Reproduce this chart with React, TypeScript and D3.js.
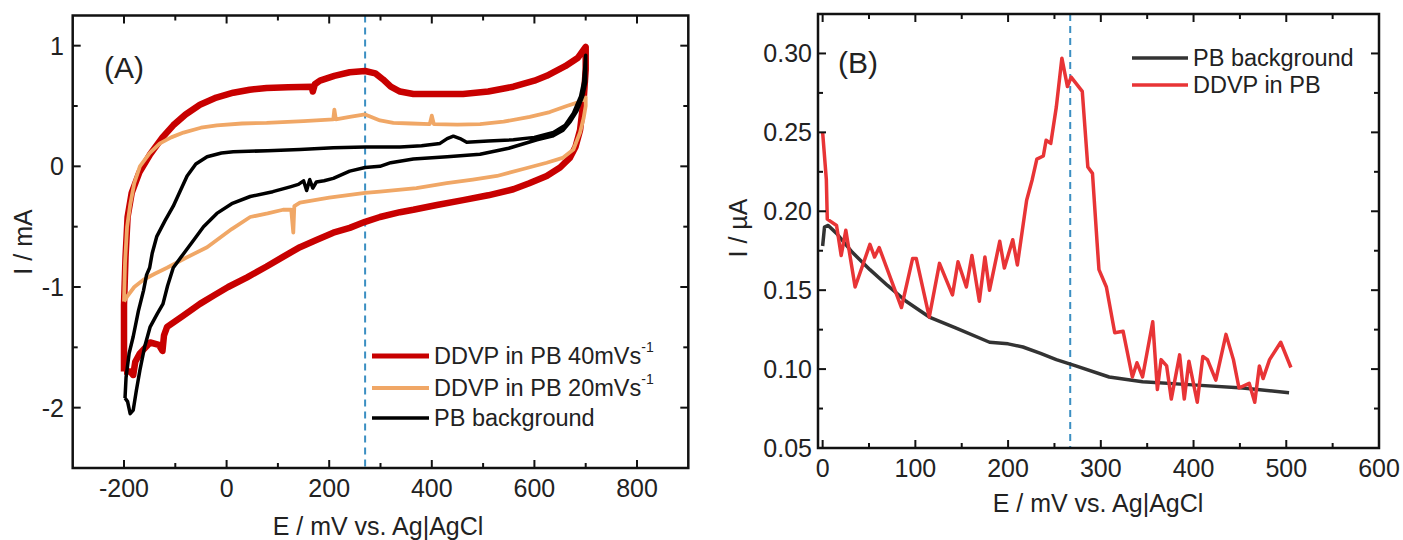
import React from "react";
import * as d3 from "d3";

// ---------- Panel A data (E / mV, I / mA) ----------
const ddvp40: [number, number][] = [
  [-200, -1.7], [-200, -1.15], [-197, -0.75], [-193, -0.42], [-185, -0.22], [-170, -0.05], [-149, 0.1],
  [-125, 0.24], [-104, 0.34], [-80, 0.43], [-52, 0.51], [-20, 0.57], [13, 0.61], [45, 0.635], [78, 0.65],
  [120, 0.655], [166, 0.66], [168, 0.62], [172, 0.68], [182, 0.71], [210, 0.75], [240, 0.78], [270, 0.79],
  [290, 0.77], [305, 0.72], [320, 0.66], [338, 0.62], [364, 0.6], [410, 0.6], [461, 0.6], [510, 0.62],
  [559, 0.66], [600, 0.71], [624, 0.75], [660, 0.83], [685, 0.9], [700, 0.99],
  [700, 0.8], [696, 0.55], [689, 0.3], [680, 0.16], [669, 0.07], [650, -0.01], [624, -0.08], [590, -0.14],
  [559, -0.19], [510, -0.24], [461, -0.28], [410, -0.32], [364, -0.36], [338, -0.38], [299, -0.42],
  [270, -0.46], [240, -0.51], [208, -0.55], [175, -0.61], [143, -0.67], [110, -0.75], [78, -0.83],
  [40, -0.92], [3, -1.0], [-25, -1.07], [-52, -1.14], [-85, -1.24], [-116, -1.33], [-122, -1.4],
  [-125, -1.53], [-132, -1.48], [-149, -1.46], [-169, -1.55], [-178, -1.62], [-182, -1.73],
  [-188, -1.7], [-200, -1.7],
];

const ddvp20: [number, number][] = [
  [-200, -1.12], [-198, -0.8], [-194, -0.5], [-188, -0.32], [-180, -0.14], [-169, 0.0], [-150, 0.11],
  [-130, 0.19], [-108, 0.24], [-84, 0.28], [-50, 0.32], [-19, 0.34], [30, 0.355], [78, 0.36], [150, 0.375],
  [208, 0.39], [210, 0.47], [213, 0.39], [240, 0.41], [270, 0.43], [299, 0.38], [325, 0.36], [360, 0.355],
  [396, 0.35], [400, 0.42], [404, 0.35], [450, 0.345], [494, 0.35], [540, 0.37], [591, 0.41], [630, 0.45],
  [663, 0.5], [685, 0.53], [700, 0.57],
  [700, 0.5], [696, 0.4], [689, 0.28], [676, 0.14], [655, 0.07], [624, 0.03], [580, -0.02], [527, -0.08],
  [480, -0.11], [429, -0.14], [370, -0.18], [299, -0.21], [270, -0.22], [200, -0.26], [143, -0.3],
  [132, -0.33], [130, -0.55], [126, -0.36], [110, -0.36], [80, -0.39], [46, -0.42], [10, -0.52],
  [-38, -0.67], [-80, -0.76], [-116, -0.84], [-140, -0.89], [-162, -0.94], [-180, -1.0], [-194, -1.08],
  [-200, -1.12],
];

const pbBackgroundA: [number, number][] = [
  [-198, -1.92], [-196, -1.75], [-190, -1.55], [-182, -1.41], [-172, -1.2], [-162, -1.03], [-156, -0.9],
  [-150, -0.84], [-145, -0.72], [-136, -0.58], [-120, -0.45], [-104, -0.33], [-90, -0.2], [-77, -0.08],
  [-60, 0.02], [-38, 0.08], [-10, 0.11], [13, 0.12], [80, 0.13], [143, 0.14], [208, 0.155], [270, 0.16],
  [338, 0.16], [380, 0.17], [416, 0.19], [430, 0.23], [442, 0.25], [455, 0.23], [468, 0.2], [510, 0.21],
  [559, 0.22], [600, 0.24], [637, 0.28], [660, 0.34], [676, 0.44], [690, 0.58], [696, 0.7], [700, 0.92],
  [700, 0.7], [694, 0.58], [683, 0.46], [670, 0.37], [656, 0.3], [635, 0.25], [605, 0.22], [550, 0.15],
  [494, 0.1], [430, 0.08], [364, 0.06], [320, 0.03], [299, 0.0], [270, -0.01], [240, -0.04], [208, -0.1],
  [190, -0.12], [175, -0.13], [168, -0.18], [162, -0.11], [156, -0.2], [150, -0.12], [140, -0.15],
  [124, -0.17], [90, -0.21], [46, -0.25], [10, -0.31], [-19, -0.39], [-45, -0.5], [-64, -0.61],
  [-85, -0.73], [-104, -0.84], [-115, -0.99], [-124, -1.14], [-135, -1.22], [-149, -1.33], [-160, -1.5],
  [-169, -1.69], [-176, -1.86], [-182, -2.02], [-188, -2.05], [-193, -1.95], [-198, -1.92],
];

// ---------- Panel B data (E / mV, I / µA) ----------
const pbBackgroundB: [number, number][] = [
  [0, 0.178], [2, 0.19], [6, 0.191], [15, 0.186], [32, 0.174], [51, 0.163], [70, 0.153], [90, 0.143],
  [115, 0.133], [144, 0.126], [180, 0.117], [200, 0.116], [216, 0.114], [235, 0.11], [252, 0.106],
  [273, 0.102], [309, 0.095], [345, 0.092], [399, 0.09], [453, 0.088], [503, 0.085],
];

const ddvpB: [number, number][] = [
  [0, 0.25], [4, 0.22], [5, 0.195], [15, 0.191], [20, 0.172], [25, 0.188], [35, 0.152], [51, 0.179],
  [56, 0.171], [61, 0.177], [85, 0.139], [97, 0.17], [101, 0.17], [115, 0.133], [126, 0.167], [140, 0.147],
  [146, 0.168], [155, 0.152], [161, 0.172], [169, 0.143], [175, 0.171], [180, 0.15], [191, 0.181],
  [196, 0.164], [205, 0.182], [210, 0.166], [220, 0.207], [226, 0.22], [231, 0.233], [238, 0.235],
  [241, 0.245], [246, 0.243], [252, 0.266], [258, 0.297], [264, 0.279], [268, 0.285], [272, 0.282],
  [280, 0.276], [286, 0.228], [291, 0.224], [296, 0.18], [298, 0.163], [306, 0.152], [315, 0.123],
  [324, 0.124], [334, 0.095], [339, 0.104], [345, 0.095], [356, 0.13], [361, 0.087], [365, 0.106],
  [371, 0.102], [376, 0.081], [385, 0.109], [390, 0.081], [395, 0.105], [404, 0.079], [410, 0.108],
  [415, 0.106], [424, 0.093], [435, 0.122], [443, 0.106], [449, 0.088], [460, 0.091], [466, 0.079],
  [471, 0.102], [475, 0.094], [482, 0.106], [494, 0.117], [505, 0.101],
];

// ---------- ticks ----------
const ticksAxA = [-200, 0, 200, 400, 600, 800];
const minorAxA = [-100, 100, 300, 500, 700];
const ticksAyA = [-2, -1, 0, 1];
const minorAyA = [-1.5, -0.5, 0.5];
const ticksBx = [0, 100, 200, 300, 400, 500, 600];
const minorBx = [50, 150, 250, 350, 450, 550];
const ticksBy = [0.05, 0.1, 0.15, 0.2, 0.25, 0.3];
const minorBy = [0.075, 0.125, 0.175, 0.225, 0.275];

const dashA = 270;
const dashB = 267;

const FONT = "'Liberation Sans', Arial, sans-serif";

type Sc = d3.ScaleLinear<number, number>;

function Frame({ x, y, xMajor, xMinor, yMajor, yMinor, xFmt, yFmt, xLabelY, yLabelX }: {
  x: Sc; y: Sc; xMajor: number[]; xMinor: number[]; yMajor: number[]; yMinor: number[];
  xFmt: (v: number) => string; yFmt: (v: number) => string; xLabelY: number; yLabelX: number;
}) {
  const [x0, x1] = x.range();
  const [y0, y1] = y.range(); // y0 bottom, y1 top
  const MJ = 8, MN = 5;
  const els: React.ReactNode[] = [];
  xMajor.forEach((v, i) => {
    const px = x(v);
    els.push(<line key={"xb" + i} x1={px} x2={px} y1={y0} y2={y0 - MJ} stroke="#111" strokeWidth={2} />);
    els.push(<line key={"xt" + i} x1={px} x2={px} y1={y1} y2={y1 + MJ} stroke="#111" strokeWidth={2} />);
    els.push(<text key={"xl" + i} x={px} y={xLabelY} textAnchor="middle" fontSize={25} fontFamily={FONT} fill="#222">{xFmt(v)}</text>);
  });
  xMinor.forEach((v, i) => {
    const px = x(v);
    els.push(<line key={"xmb" + i} x1={px} x2={px} y1={y0} y2={y0 - MN} stroke="#111" strokeWidth={2} />);
    els.push(<line key={"xmt" + i} x1={px} x2={px} y1={y1} y2={y1 + MN} stroke="#111" strokeWidth={2} />);
  });
  yMajor.forEach((v, i) => {
    const py = y(v);
    els.push(<line key={"yl" + i} x1={x0} x2={x0 + MJ} y1={py} y2={py} stroke="#111" strokeWidth={2} />);
    els.push(<line key={"yr" + i} x1={x1} x2={x1 - MJ} y1={py} y2={py} stroke="#111" strokeWidth={2} />);
    els.push(<text key={"ylab" + i} x={yLabelX} y={py} dy="0.36em" textAnchor="end" fontSize={25} fontFamily={FONT} fill="#222">{yFmt(v)}</text>);
  });
  yMinor.forEach((v, i) => {
    const py = y(v);
    els.push(<line key={"yml" + i} x1={x0} x2={x0 + MN} y1={py} y2={py} stroke="#111" strokeWidth={2} />);
    els.push(<line key={"ymr" + i} x1={x1} x2={x1 - MN} y1={py} y2={py} stroke="#111" strokeWidth={2} />);
  });
  return (
    <g>
      {els}
      <rect x={x0} y={y1} width={x1 - x0} height={y0 - y1} fill="none" stroke="#111" strokeWidth={2.5} />
    </g>
  );
}

export default function App() {
  const xA = d3.scaleLinear().domain([-300, 900]).range([72.7, 688.3]);
  const yA = d3.scaleLinear().domain([-2.5, 1.25]).range([468, 15.5]);
  const xB = d3.scaleLinear().domain([-5, 600]).range([818, 1379]);
  const yB = d3.scaleLinear().domain([0.05, 0.325]).range([448, 14]);

  const lineA = d3.line<[number, number]>().x(d => xA(d[0])).y(d => yA(d[1]));
  const lineB = d3.line<[number, number]>().x(d => xB(d[0])).y(d => yB(d[1]));

  const red = "#c80000";
  const orange = "#f0a766";
  const redB = "#e83436";
  const greyB = "#333333";
  const blue = "#3b8fc2";

  return (
    <svg width={1403} height={540} style={{ position: "absolute", left: 0, top: 0, background: "#fff" }}>
      <rect width={1403} height={540} fill="#fff" />
      {/* Panel A */}
      <line x1={xA(dashA)} x2={xA(dashA)} y1={yA.range()[1]} y2={yA.range()[0]} stroke={blue} strokeWidth={2} strokeDasharray="7,5" />
      <path d={lineA(ddvp40) || ""} fill="none" stroke={red} strokeWidth={6.5} strokeLinejoin="round" />
      <path d={lineA(ddvp20) || ""} fill="none" stroke={orange} strokeWidth={3.8} strokeLinejoin="round" />
      <path d={lineA(pbBackgroundA) || ""} fill="none" stroke="#000" strokeWidth={3.5} strokeLinejoin="round" />
      <Frame x={xA} y={yA} xMajor={ticksAxA} xMinor={minorAxA} yMajor={ticksAyA} yMinor={minorAyA}
        xFmt={v => String(v)} yFmt={v => String(v)} xLabelY={497} yLabelX={64} />
      <text x={104} y={78} fontSize={30} fontFamily={FONT} fill="#222">(A)</text>
      <text x={378} y={535} textAnchor="middle" fontSize={25} fontFamily={FONT} fill="#222">E / mV vs. Ag|AgCl</text>
      <text transform="translate(32,242) rotate(-90)" textAnchor="middle" fontSize={25} fontFamily={FONT} fill="#222">I / mA</text>
      {/* Legend A */}
      {[
        { c: red, w: 5, t: "DDVP in PB 40mVs", sup: true, y: 356 },
        { c: orange, w: 4, t: "DDVP in PB 20mVs", sup: true, y: 388 },
        { c: "#000", w: 3.5, t: "PB background", sup: false, y: 418 },
      ].map((l, i) => (
        <g key={"lgA" + i}>
          <line x1={372} x2={429} y1={l.y} y2={l.y} stroke={l.c} strokeWidth={l.w} />
          <text x={434} y={l.y} dy="0.36em" fontSize={23.5} fontFamily={FONT} fill="#222">
            {l.t}
            {l.sup ? <tspan fontSize={14} dy="-0.9em">-1</tspan> : null}
          </text>
        </g>
      ))}

      {/* Panel B */}
      <line x1={xB(dashB)} x2={xB(dashB)} y1={yB.range()[1]} y2={yB.range()[0]} stroke={blue} strokeWidth={2} strokeDasharray="7,5" />
      <path d={lineB(pbBackgroundB) || ""} fill="none" stroke={greyB} strokeWidth={3.5} strokeLinejoin="round" />
      <path d={lineB(ddvpB) || ""} fill="none" stroke={redB} strokeWidth={3.5} strokeLinejoin="round" />
      <Frame x={xB} y={yB} xMajor={ticksBx} xMinor={minorBx} yMajor={ticksBy} yMinor={minorBy}
        xFmt={v => String(v)} yFmt={v => v.toFixed(2)} xLabelY={477} yLabelX={812} />
      <text x={838} y={73} fontSize={30} fontFamily={FONT} fill="#222">(B)</text>
      <text x={1098} y={512} textAnchor="middle" fontSize={25} fontFamily={FONT} fill="#222">E / mV vs. Ag|AgCl</text>
      <text transform="translate(747,228) rotate(-90)" textAnchor="middle" fontSize={25} fontFamily={FONT} fill="#222">I / µA</text>
      {[
        { c: greyB, t: "PB background", y: 58 },
        { c: redB, t: "DDVP in PB", y: 85 },
      ].map((l, i) => (
        <g key={"lgB" + i}>
          <line x1={1132} x2={1188} y1={l.y} y2={l.y} stroke={l.c} strokeWidth={3.5} />
          <text x={1193} y={l.y} dy="0.36em" fontSize={23.5} fontFamily={FONT} fill="#222">{l.t}</text>
        </g>
      ))}
    </svg>
  );
}
